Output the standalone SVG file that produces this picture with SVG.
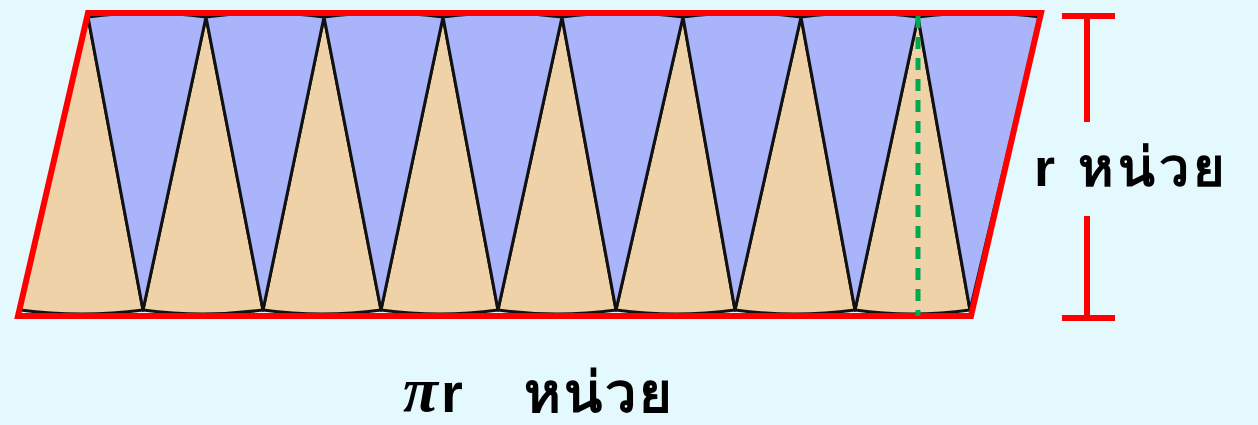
<svg xmlns="http://www.w3.org/2000/svg" width="1258" height="425" viewBox="0 0 1258 425">
  <style>
    .tan { fill: #F0D2A8; stroke: #111; stroke-width: 3; stroke-linejoin: round; }
    .blue { fill: #A9B4FA; stroke: #111; stroke-width: 3; stroke-linejoin: round; }
    .red { stroke: #FF0000; stroke-width: 6; fill: none; }
    .lbl { font-family: "Liberation Sans", "Noto Sans", sans-serif; font-weight: bold; fill: #000; }
  </style>
  <rect width="1258" height="425" fill="#E4F9FD"/>
  <g id="sectors">
    <path class="tan" d="M88 17 L143 310 Q82 318 20 310 Z"/>
    <path class="tan" d="M206 17 L263 310 Q203 318 143 310 Z"/>
    <path class="tan" d="M324 17 L381 310 Q322 318 263 310 Z"/>
    <path class="tan" d="M443 17 L498 310 Q440 318 381 310 Z"/>
    <path class="tan" d="M562 17 L616 310 Q557 318 498 310 Z"/>
    <path class="tan" d="M683 17 L735 310 Q676 318 616 310 Z"/>
    <path class="tan" d="M801 17 L855 310 Q795 318 735 310 Z"/>
    <path class="tan" d="M918 17 L970 310 Q912 318 855 310 Z"/>
    <path class="blue" d="M143 310 L88 17 Q147 9 206 17 Z"/>
    <path class="blue" d="M263 310 L206 17 Q265 9 324 17 Z"/>
    <path class="blue" d="M381 310 L324 17 Q383 9 443 17 Z"/>
    <path class="blue" d="M498 310 L443 17 Q502 9 562 17 Z"/>
    <path class="blue" d="M616 310 L562 17 Q622 9 683 17 Z"/>
    <path class="blue" d="M735 310 L683 17 Q742 9 801 17 Z"/>
    <path class="blue" d="M855 310 L801 17 Q860 9 918 17 Z"/>
    <path class="blue" d="M970 310 L918 17 Q979 9 1040 17 Z"/>
  </g>
  <g id="parallelogram">
    <polygon class="red" points="88,13 1041,13 971,316 18,316"/>
  </g>
  <g id="connectors">
    <line x1="918" y1="16" x2="918" y2="316" stroke="#00A84F" stroke-width="5" stroke-dasharray="12,9"/>
  </g>
  <g id="height-bracket">
    <line class="red" x1="1087" y1="14" x2="1087" y2="122"/>
    <line class="red" x1="1062" y1="16" x2="1115" y2="16"/>
    <line class="red" x1="1087" y1="216" x2="1087" y2="318"/>
    <line class="red" x1="1062" y1="318" x2="1115" y2="318"/>
  </g>
  <g id="labels">
    <text class="lbl" x="1034" y="186" font-size="54" letter-spacing="4">r หน่วย</text>
    <text x="403" y="411" font-family="Liberation Serif, serif" font-style="italic" font-weight="bold" font-size="64">π</text>
    <text class="lbl" x="441" y="412" font-size="56" font-weight="normal">r</text>
    <text class="lbl" x="524" y="412" font-size="56" letter-spacing="3">หน่วย</text>
  </g>
</svg>
